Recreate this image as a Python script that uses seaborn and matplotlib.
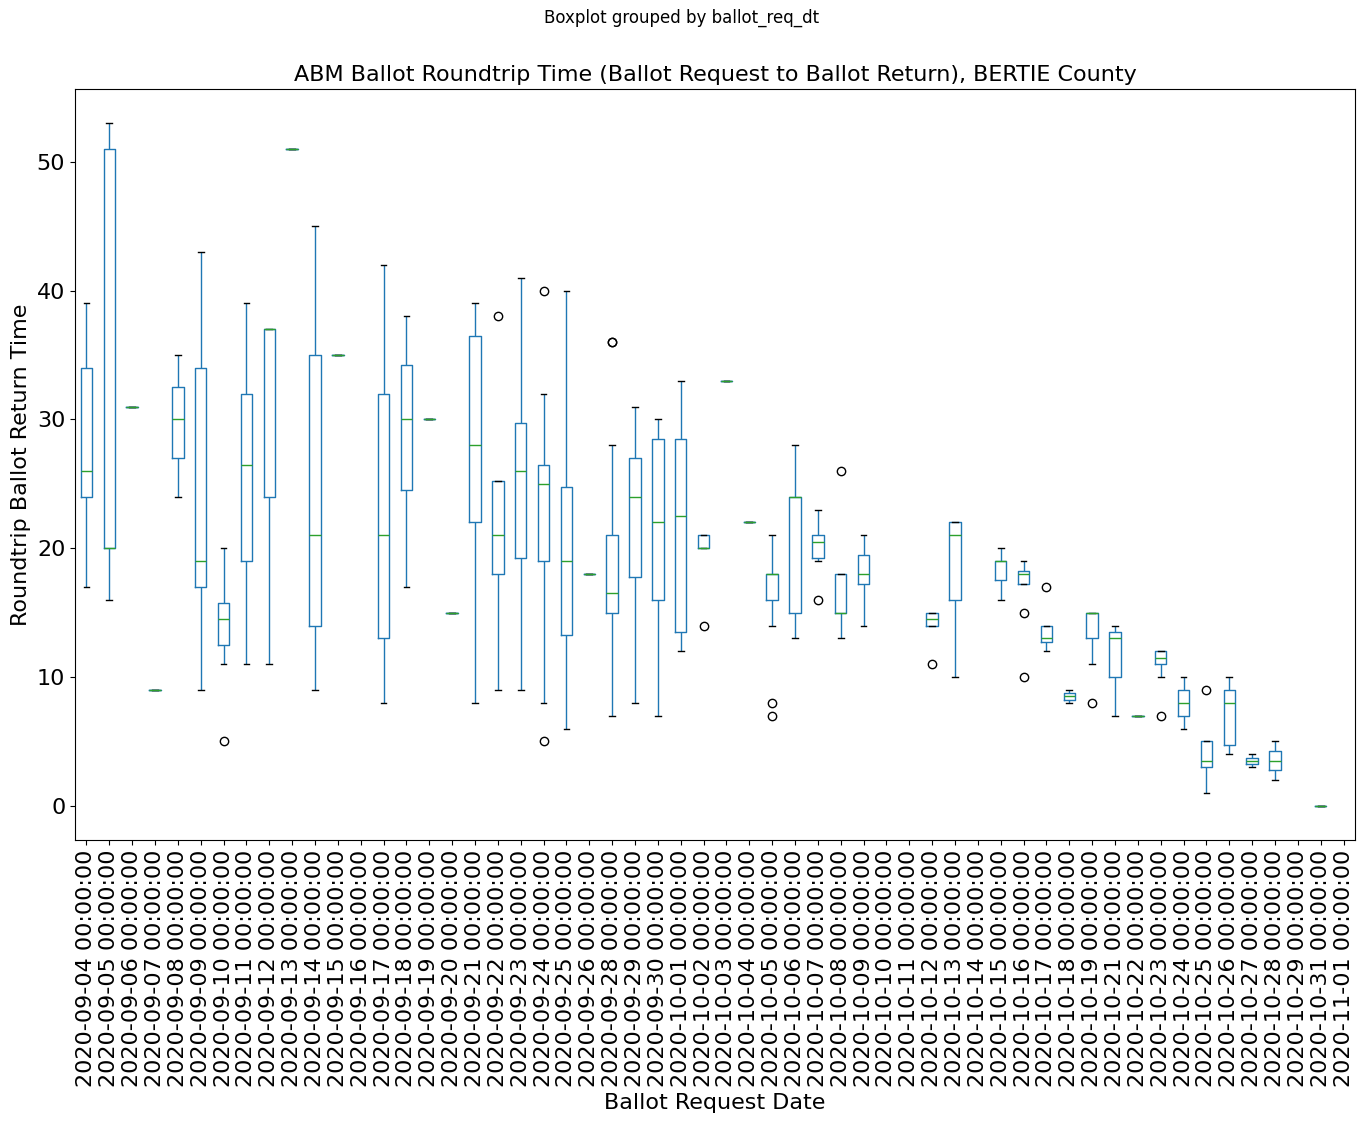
import pandas as pd
import matplotlib
matplotlib.use('Agg')
import matplotlib.pyplot as plt
import seaborn as sns

# ======= data (days from request to return) =======
dates = [
    '2020-09-04', '2020-09-05', '2020-09-06', '2020-09-07', '2020-09-08', '2020-09-09',
    '2020-09-10', '2020-09-11', '2020-09-12', '2020-09-13', '2020-09-14', '2020-09-15',
    '2020-09-16', '2020-09-17', '2020-09-18', '2020-09-19', '2020-09-20', '2020-09-21',
    '2020-09-22', '2020-09-23', '2020-09-24', '2020-09-25', '2020-09-26', '2020-09-28',
    '2020-09-29', '2020-09-30', '2020-10-01', '2020-10-02', '2020-10-03', '2020-10-04',
    '2020-10-05', '2020-10-06', '2020-10-07', '2020-10-08', '2020-10-09', '2020-10-10',
    '2020-10-11', '2020-10-12', '2020-10-13', '2020-10-14', '2020-10-15', '2020-10-16',
    '2020-10-17', '2020-10-18', '2020-10-19', '2020-10-21', '2020-10-22', '2020-10-23',
    '2020-10-24', '2020-10-25', '2020-10-26', '2020-10-27', '2020-10-28', '2020-10-29',
    '2020-10-31', '2020-11-01',
]

return_days = [
    [17, 24, 26, 34, 39],
    [16, 20, 20, 51, 53],
    [31],
    [9],
    [24, 27, 30, 32.5, 35],
    [9, 17, 19, 34, 43],
    [5, 11, 12.5, 13.5, 14.5, 15, 15.75, 17, 20],
    [11, 19, 26.5, 32, 39],
    [11, 24, 37, 37, 37],
    [51],
    [9, 14, 21, 35, 45],
    [35],
    [],
    [8, 13, 21, 32, 42],
    [17, 24.5, 30, 34.25, 38],
    [30],
    [15],
    [8, 22, 28, 36.5, 39],
    [9, 15, 18, 20, 21, 23, 25.25, 25.25, 38],
    [9, 19.25, 26, 29.75, 41],
    [5, 8, 15, 19, 22, 24, 25, 26, 26, 26.5, 28, 32, 40],
    [6, 13.25, 19, 24.75, 40],
    [18],
    [7, 11, 14, 15, 15.5, 16, 16.5, 18, 20, 21, 28, 36, 36],
    [8, 17.75, 24, 27, 31],
    [7, 16, 22, 28.5, 30],
    [12, 13.5, 22.5, 28.5, 33],
    [14, 20, 20, 20, 20, 20, 21, 21, 21],
    [33],
    [22],
    [7, 8, 14, 16, 16, 17, 18, 18, 18, 18, 19, 20, 21],
    [13, 15, 24, 24, 28],
    [16, 19, 19.25, 20, 20.5, 21, 21, 22, 23],
    [13, 14, 15, 15, 15, 17, 18, 18, 26],
    [14, 17.25, 18, 19.5, 21],
    [],
    [],
    [11, 14, 14, 14, 14.5, 15, 15, 15, 15],
    [10, 16, 21, 22, 22],
    [],
    [16, 17.5, 19, 19, 20],
    [10, 15, 17.25, 17.25, 17.5, 18, 18, 18, 18, 18.25, 18.5, 19, 19],
    [12, 12.5, 12.75, 13, 13, 13.5, 14, 14, 17],
    [8, 8.25, 8.5, 8.75, 9],
    [8, 11, 13, 14, 15, 15, 15, 15, 15],
    [7, 10, 13, 13.5, 14],
    [7],
    [7, 10, 11, 11, 11.5, 12, 12, 12, 12],
    [6, 7, 8, 9, 10],
    [1, 2, 3, 3, 3.5, 4, 5, 5, 9],
    [4, 4.75, 8, 9, 10],
    [3, 3.25, 3.5, 3.75, 4],
    [2, 2.75, 3.5, 4.25, 5],
    [],
    [0],
    [],
]

labels = [d + ' 00:00:00' for d in dates]
rows = [(lab, v) for lab, vals in zip(labels, return_days) for v in vals]
df = pd.DataFrame(rows, columns=['ballot_req_dt', 'return_days'])

# ======= plot =======
fig = plt.figure(figsize=(13.63, 11.22), dpi=100)
ax = fig.add_axes([75 / 1363, 1 - 840 / 1122, 1280 / 1363, 751 / 1122])

sns.boxplot(
    data=df, x='ballot_req_dt', y='return_days', order=labels, ax=ax,
    color='#1f77b4', saturation=1, fill=False, width=0.5, linewidth=1,
    whis=1.5, capwidths=0.25,
    boxprops={'color': '#1f77b4', 'linewidth': 1},
    whiskerprops={'color': '#1f77b4', 'linewidth': 1},
    capprops={'color': 'black', 'linewidth': 1},
    medianprops={'color': '#2ca02c', 'linewidth': 1},
    flierprops={'marker': 'o', 'markerfacecolor': 'none', 'markeredgecolor': 'black',
                'markersize': 6, 'linestyle': 'none'},
)

ax.set_xlim(-0.5, len(labels) - 0.5)
ax.set_ylim(-2.65, 55.65)
ax.set_yticks([0, 10, 20, 30, 40, 50])
ax.set_xticks(range(len(labels)))
ax.set_xticklabels(labels, rotation=90, fontsize=16)
ax.tick_params(axis='y', labelsize=16)
ax.set_title('ABM Ballot Roundtrip Time (Ballot Request to Ballot Return), BERTIE County', fontsize=16)
ax.set_xlabel('Ballot Request Date', fontsize=16)
ax.set_ylabel('Roundtrip Ballot Return Time', fontsize=16)
ax.grid(False)
for s in ax.spines.values():
    s.set_visible(True)
fig.suptitle('Boxplot grouped by ballot_req_dt', y=1 - 18 / 1122, va='center', fontsize=12)

fig.savefig('out.png', dpi=100)
